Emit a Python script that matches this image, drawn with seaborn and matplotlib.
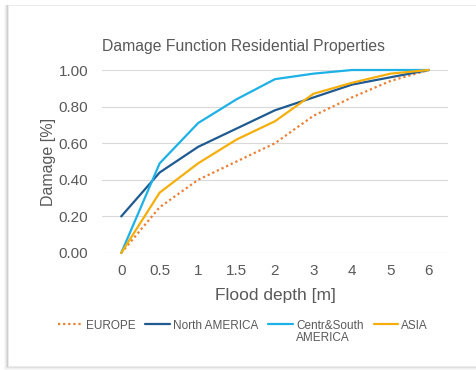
import matplotlib
matplotlib.use("Agg")
import matplotlib.pyplot as plt
from matplotlib.patches import Rectangle
import seaborn as sns
import pandas as pd

depths = ["0", "0.5", "1", "1.5", "2", "3", "4", "5", "6"]
europe = [0.00, 0.25, 0.40, 0.50, 0.60, 0.75, 0.85, 0.94, 1.00]
north_america = [0.20, 0.44, 0.58, 0.68, 0.78, 0.85, 0.92, 0.96, 1.00]
centr_south_america = [0.00, 0.49, 0.71, 0.84, 0.95, 0.98, 1.00, 1.00, 1.00]
asia = [0.00, 0.33, 0.49, 0.62, 0.72, 0.87, 0.93, 0.98, 1.00]

series_names = ["EUROPE", "North AMERICA", "Centr&South", "ASIA"]
series_values = [europe, north_america, centr_south_america, asia]
colors = ["#ED7D31", "#1F5A91", "#1EB1E6", "#F5AE0A"]
styles = [(0, (1, 1.3)), "-", "-", "-"]

sns.set_theme(style="white")
plt.rcParams["font.family"] = ["Liberation Sans", "DejaVu Sans"]
txt = "#595959"

fig = plt.figure(figsize=(4.77, 3.70), dpi=100)
W, H = 477, 370
# card shadow and card
for i, a in enumerate([0.05, 0.08, 0.12, 0.18]):
    d = 4 - i
    fig.patches.append(Rectangle(((8 - d) / W, (4 - d) / H), 1, (361 + d) / H,
                                 transform=fig.transFigure, facecolor="#808080",
                                 alpha=a, edgecolor="none", zorder=-3))
fig.patches.append(Rectangle((8 / W, 4 / H), 1, 361 / H, transform=fig.transFigure,
                             facecolor="white", edgecolor="#EDEDED", linewidth=0.6, zorder=-2))

ax = fig.add_axes([102 / W, (370 - 253) / H, 346 / W, 183 / H])
ax.set_facecolor("none")

for name, vals, c, ls in zip(series_names, series_values, colors, styles):
    df = pd.DataFrame({"depth": depths, "damage": vals})
    sns.lineplot(data=df, x="depth", y="damage", ax=ax, color=c, linestyle=ls,
                 linewidth=1.6, label=name, clip_on=False, sort=False)

ax.set_xlim(-0.5, len(depths) - 0.5)
ax.set_ylim(0, 1)
ax.set_yticks([0, 0.2, 0.4, 0.6, 0.8, 1.0])
ax.set_yticklabels([f"{v:.2f}" for v in [0, 0.2, 0.4, 0.6, 0.8, 1.0]])
ax.yaxis.grid(True, color="#D9D9D9", linewidth=0.8)
ax.xaxis.grid(False)
for s in ax.spines.values():
    s.set_visible(False)
ax.tick_params(axis="both", length=0, labelsize=11, colors=txt, pad=8)
ax.tick_params(axis="y", pad=10)
ax.set_xlabel("Flood depth [m]", fontsize=12.5, color=txt, labelpad=7)
ax.set_ylabel("Damage [%]", fontsize=11.5, color=txt, labelpad=2)
ax.set_title("Damage Function Residential Properties", fontsize=11.3, color=txt,
             loc="left", x=0.0, pad=14)

h, l = ax.get_legend_handles_labels()
ax.get_legend().remove()
leg = fig.legend(h, l, loc="upper center", bbox_to_anchor=(243 / W, 1 - 309 / H), ncol=4,
                 frameon=False, fontsize=8.5, labelcolor=txt, handlelength=2.1,
                 handletextpad=0.25, columnspacing=0.85)
fig.canvas.draw()
t = leg.get_texts()[2]
bb = t.get_window_extent()
fig.text(bb.x0 / W, (bb.y0 - 0.5) / H, "AMERICA", fontsize=8.5, color=txt, va="top", ha="left")

fig.savefig("out.png", dpi=100)
